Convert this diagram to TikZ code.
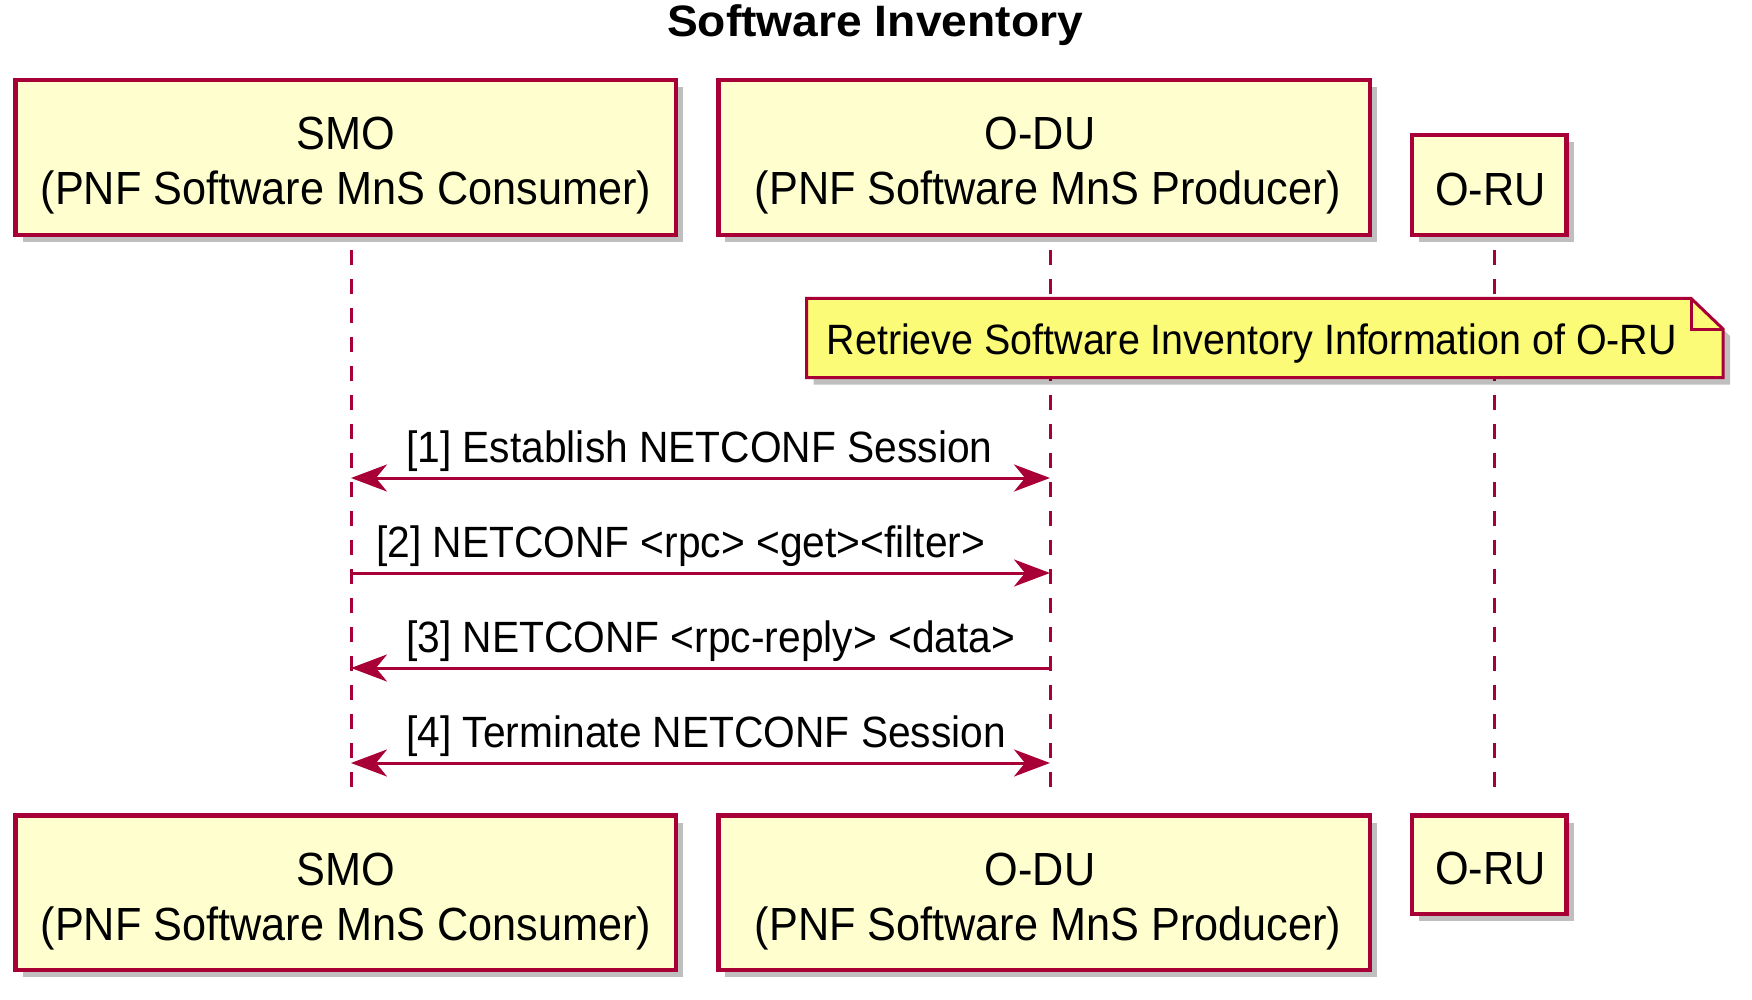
\documentclass[tikz,border=0pt]{standalone}
\usepackage{fontspec}
\setmainfont{Liberation Sans}[FakeStretch=0.93]
\newfontfamily\titlefont{Liberation Sans}[FakeStretch=1.05]
\usetikzlibrary{arrows.meta,shadows,calc}
\definecolor{puborder}{HTML}{A80036}
\definecolor{pubox}{HTML}{FEFECE}
\definecolor{punote}{HTML}{FBFB77}
\begin{document}
\begin{tikzpicture}[x=1pt,y=-1pt,
  pshadow/.style={drop shadow={shadow xshift=7pt, shadow yshift=-7pt, opacity=0.25, fill=black}},
  partbox/.style={draw=puborder, line width=4.5pt, fill=pubox, inner sep=0pt, outer sep=0pt, pshadow},
  parttext/.style={font=\fontsize{46.5}{50}\selectfont, anchor=base, inner sep=0pt},
  lifeline/.style={draw=puborder, line width=3pt, dash pattern=on 15pt off 14pt},
  msgline/.style={draw=puborder, line width=3pt},
  tipA/.tip={Stealth[length=36pt,width=27pt,inset=11pt]},
  msgboth/.style={msgline, tipA-tipA},
  msgto/.style={msgline, -tipA},
  msgback/.style={msgline, tipA-},
  msgtext/.style={font=\fontsize{43.8}{48}\selectfont, anchor=base west, inner sep=0pt},
  notebox/.style={draw=puborder, line width=3pt, fill=punote, line join=miter, pshadow},
  notetext/.style={font=\fontsize{42.4}{46}\selectfont, anchor=base west, inner sep=0pt}
]
\useasboundingbox[fill=white] (0,0) rectangle (1752,1000);

% title
\node[font=\titlefont\bfseries\fontsize{44}{48}\selectfont, anchor=base, inner sep=0pt] (title) at (875,37) {Software Inventory};

% lifelines
\coordinate (smoL1) at (351,250); \coordinate (smoL2) at (351,799);
\coordinate (oduL1) at (1050,250); \coordinate (oduL2) at (1050,799);
\coordinate (oruL1) at (1494,250); \coordinate (oruL2) at (1494,799);
\draw[lifeline] (smoL1) -- (smoL2);
\draw[lifeline] (oduL1) -- (oduL2);
\draw[lifeline] (oruL1) -- (oruL2);

% note
\path[notebox] (806.7,298.3) -- (1691,298.3) -- (1723,329) -- (1723,377.6) -- (806.7,377.6) -- cycle;
\draw[draw=puborder, line width=3pt] (1691,298.3) -- (1691,329) -- (1723,329);
\node[notetext] (noteT) at (826.5,354) {Retrieve Software Inventory Information of O-RU};

% messages
\coordinate (s1) at (351,478); \coordinate (d1) at (1050,478);
\coordinate (s2) at (351,573); \coordinate (d2) at (1050,573);
\coordinate (s3) at (351,668); \coordinate (d3) at (1050,668);
\coordinate (s4) at (351,763); \coordinate (d4) at (1050,763);
\draw[msgboth] (s1) -- (d1);
\draw[msgto] (s2) -- (d2);
\draw[msgback] (s3) -- (d3);
\draw[msgboth] (s4) -- (d4);
\node[msgtext] (m1) at (406,462) {[1] Establish NETCONF Session};
\node[msgtext] (m2) at (376,557) {[2] NETCONF <rpc> <get><filter>};
\node[msgtext] (m3) at (406,652) {[3] NETCONF <rpc-reply> <data>};
\node[msgtext] (m4) at (406,747) {[4] Terminate NETCONF Session};

% participant boxes (top)
\node[partbox, minimum width=660.4pt, minimum height=155pt] (smoT) at (345.8,157.5) {};
\node[partbox, minimum width=651.4pt, minimum height=155pt] (oduT) at (1044.1,157.5) {};
\node[partbox, minimum width=154.5pt, minimum height=99.8pt] (oruT) at (1489.25,185.1) {};
\node[parttext] (smoT1) at ($(smoT.north)+(0,70)$) {SMO};
\node[parttext] (smoT2) at ($(smoT.north)+(0,125)$) {(PNF Software MnS Consumer)};
\node[parttext] (oduT1) at ($(oduT.north)+(-4,70)$) {O-DU};
\node[parttext] (oduT2) at ($(oduT.north)+(4,125)$) {(PNF Software MnS Producer)};
\node[parttext] (oruT1) at ($(oruT.north)+(1,70)$) {O-RU};

% participant boxes (bottom)
\node[partbox, minimum width=660.4pt, minimum height=154.4pt] (smoB) at (345.8,892.8) {};
\node[partbox, minimum width=651.4pt, minimum height=154.4pt] (oduB) at (1044.1,892.8) {};
\node[partbox, minimum width=154.5pt, minimum height=98.4pt] (oruB) at (1489.25,864.8) {};
\node[parttext] (smoB1) at ($(smoB.north)+(0,70)$) {SMO};
\node[parttext] (smoB2) at ($(smoB.north)+(0,125)$) {(PNF Software MnS Consumer)};
\node[parttext] (oduB1) at ($(oduB.north)+(-4,70)$) {O-DU};
\node[parttext] (oduB2) at ($(oduB.north)+(4,125)$) {(PNF Software MnS Producer)};
\node[parttext] (oruB1) at ($(oruB.north)+(1,69)$) {O-RU};
\end{tikzpicture}
\end{document}
